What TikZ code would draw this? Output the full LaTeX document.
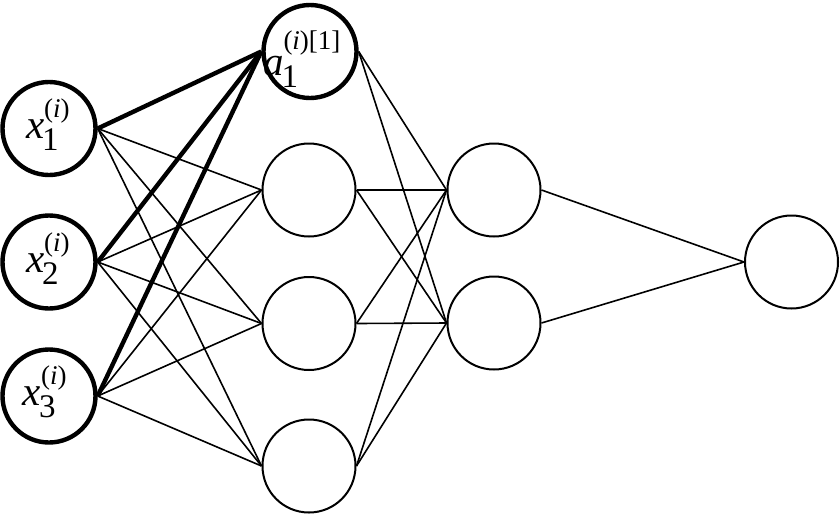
\documentclass[tikz,border=0pt]{standalone}
\usepackage{fontspec}
\setmainfont{Liberation Serif}
\newcommand\nlab[4]{\fontsize{41}{41}\selectfont\textit{#1}\rlap{\kern-2pt\raisebox{-12pt}{\fontsize{33}{33}\selectfont #2}}\raisebox{#4}{\fontsize{27}{27}\selectfont #3}}
\tikzset{
  neuron/.style={circle, draw, minimum size=93pt, inner sep=0pt, line width=2pt},
  inneuron/.style={neuron, line width=4.4pt},
  conn/.style={line width=1.6pt},
  strong/.style={line width=4.4pt},
  lab/.style={anchor=base west, inner sep=0pt, outer sep=0pt}
}
\begin{document}
\begin{tikzpicture}[x=1pt, y=-1pt]
\useasboundingbox (0,0) rectangle (840,515);
% input layer
\node[inneuron] (x1) at (49,128.5) {};
\node[inneuron] (x2) at (49,262) {};
\node[inneuron] (x3) at (49,396) {};
% hidden layer 1
\node[inneuron] (h1) at (310,51.5) {};
\node[neuron] (h2) at (309,190) {};
\node[neuron] (h3) at (309,323.5) {};
\node[neuron] (h4) at (309,466) {};
% hidden layer 2
\node[neuron] (g1) at (494,190) {};
\node[neuron] (g2) at (494,323) {};
% output
\node[neuron] (o) at (791.5,262) {};
% connections
\foreach \i in {x1,x2,x3}{
  \draw[strong] (\i.east) -- (h1.west);
  \foreach \j in {h2,h3,h4}{\draw[conn] (\i.east) -- (\j.west);}
}
\foreach \i in {h1,h2,h3,h4}{
  \foreach \j in {g1,g2}{\draw[conn] (\i.east) -- (\j.west);}
}
\draw[conn] (g1.east) -- (o.west);
\draw[conn] (g2.east) -- (o.west);
% labels
\node[lab] (lx1) at (26,138) {\nlab{x}{1}{(\textit{i})}{21pt}};
\node[lab] (lx2) at (26,272) {\nlab{x}{2}{(\textit{i})}{21pt}};
\node[lab] (lx3) at (23,405) {\nlab{x}{3}{(\textit{i})}{21pt}};
\node[lab] (lh1) at (263,75) {\nlab{a}{1}{(\textit{i})[1]}{26pt}};
\end{tikzpicture}
\end{document}
